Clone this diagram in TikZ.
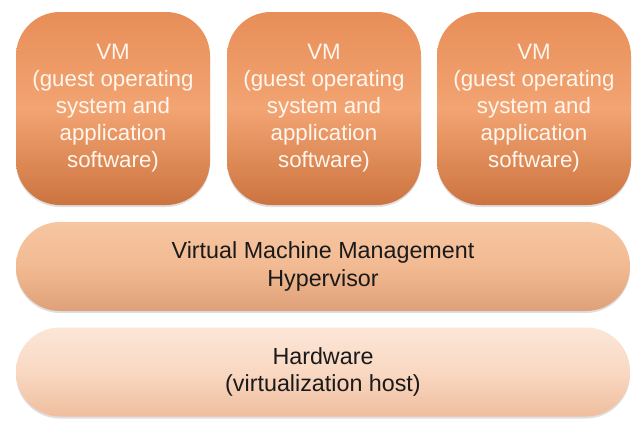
\documentclass[tikz,border=0pt]{standalone}
\usepackage{fontspec}
\setmainfont{Liberation Sans}
\usetikzlibrary{shadows}
\definecolor{vmtop}{HTML}{E88E58}
\definecolor{vmmid}{HTML}{F2A472}
\definecolor{vmbot}{HTML}{CC7440}
\definecolor{hvtop}{HTML}{F6C6A2}
\definecolor{hvmid}{HTML}{F2BA92}
\definecolor{hvbot}{HTML}{DFA078}
\definecolor{hwtop}{HTML}{FCE6D8}
\definecolor{hwmid}{HTML}{F9D8C2}
\definecolor{hwbot}{HTML}{EFBE9E}
\definecolor{vmtext}{HTML}{FFF6EE}
\definecolor{bartext}{HTML}{1A1A1A}
\tikzset{
  vmbox/.style={rectangle, rounded corners=44pt, minimum width=194pt, minimum height=193pt,
    top color=vmtop, bottom color=vmbot, middle color=vmmid, draw=none,
    drop shadow={shadow xshift=0pt, shadow yshift=-2pt, opacity=0.25},
    text=vmtext, font=\fontsize{22.3}{27}\selectfont, align=center, inner sep=0pt},
  hvbar/.style={rectangle, rounded corners=44pt, minimum width=614pt, minimum height=89pt,
    top color=hvtop, bottom color=hvbot, middle color=hvmid, draw=none,
    drop shadow={shadow xshift=0pt, shadow yshift=-2pt, opacity=0.25},
    text=bartext, font=\fontsize{23.3}{27.5}\selectfont, align=center, inner sep=0pt},
  hwbar/.style={hvbar, top color=hwtop, bottom color=hwbot, middle color=hwmid}
}
\begin{document}
\begin{tikzpicture}[x=1pt,y=-1pt]
\useasboundingbox (0,0) rectangle (634,426);
\fill[white] (0,0) rectangle (634,426);
\node[vmbox] (vm1) at (113,108.5) {VM\\(guest operating\\system and\\application\\software)};
\node[vmbox] (vm2) at (324,108.5) {VM\\(guest operating\\system and\\application\\software)};
\node[vmbox] (vm3) at (534,108.5) {VM\\(guest operating\\system and\\application\\software)};
\node[hvbar] (hv) at (323,266.5) {Virtual Machine Management\\Hypervisor};
\node[hwbar] (hw) at (323,372) {Hardware\\(virtualization host)};
\end{tikzpicture}
\end{document}
